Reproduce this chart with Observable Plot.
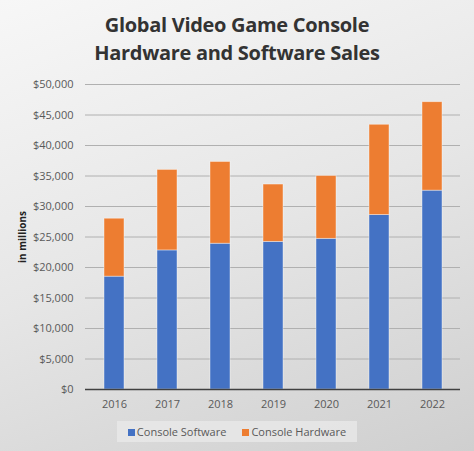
<!DOCTYPE html>
<html lang="en">
<head>
<meta charset="UTF-8">
<title>Global Video Game Console Hardware and Software Sales</title>
<style>
  body {
    margin: 0;
    padding: 0;
  }
  #chart {
    position: relative;
    width: 474px;
    height: 451px;
    overflow: hidden;
    background: linear-gradient(160deg, #f7f7f7 0%, #e6e6e6 50%, #cfcfcf 100%);
    font-family: 'Open Sans', 'DejaVu Sans', sans-serif;
  }
  #title {
    height: 70px;
    padding-top: 11px;
    box-sizing: border-box;
    text-align: center;
    font-size: 20px;
    font-weight: bold;
    line-height: 28px;
    color: #333333;
    letter-spacing: -0.3px;
  }
  #plot svg {
    display: block;
    background: transparent;
  }
  #legend {
    position: absolute;
    left: 117px;
    top: 421px;
    width: 240px;
    height: 21px;
    background: rgba(235, 235, 235, 0.7);
    display: flex;
    align-items: center;
    justify-content: center;
    gap: 16px;
    font-size: 11px;
    color: #595959;
  }
  #legend span.sw {
    display: inline-block;
    width: 7px;
    height: 7px;
    margin-right: 2px;
  }
</style>
</head>
<body>
<div id="chart">
  <div id="title">Global Video Game Console<br>Hardware and Software Sales</div>
  <div id="plot"></div>
  <div id="legend"></div>
</div>

<script src="https://cdn.jsdelivr.net/npm/d3@7"></script>
<script src="https://cdn.jsdelivr.net/npm/@observablehq/plot@0.6"></script>
<script>
  // values, in millions of dollars
  const years = ["2016", "2017", "2018", "2019", "2020", "2021", "2022"];
  const software = [18500, 22800, 23900, 24200, 24700, 28600, 32600];
  const hardware = [9500, 13200, 13400, 9400, 10300, 14800, 14500];
  const seriesNames = ["Console Software", "Console Hardware"];
  const seriesColors = ["#4472c4", "#ed7d31"];
  const yTicks = [0, 5000, 10000, 15000, 20000, 25000, 30000, 35000, 40000, 45000, 50000];

  const rows = [];
  years.forEach((yr, i) => {
    rows.push({year: yr, series: seriesNames[0], value: software[i]});
    rows.push({year: yr, series: seriesNames[1], value: hardware[i]});
  });

  const fmt = d => "$" + d3.format(",")(d);

  const chart = Plot.plot({
    width: 474,
    height: 349,
    marginTop: 14,
    marginBottom: 30,
    marginLeft: 85,
    marginRight: 14,
    style: {fontFamily: "'Open Sans', 'DejaVu Sans', sans-serif", fontSize: "11px", color: "#595959", background: "transparent"},
    x: {domain: years, paddingInner: 0.63, paddingOuter: 0.3, label: null, tickSize: 0, tickPadding: 11},
    y: {domain: [0, 50000], ticks: yTicks, tickFormat: fmt, tickSize: 0, tickPadding: 12,
        label: "in millions", labelAnchor: "center", labelOffset: 67, labelArrow: "none"},
    color: {domain: seriesNames, range: seriesColors},
    marks: [
      Plot.gridY(yTicks.slice(1), {stroke: "#b0b0b0", strokeOpacity: 1, strokeWidth: 1}),
      Plot.barY(rows, Plot.stackY({
        x: "year",
        y: "value",
        fill: "series",
        order: seriesNames,
        stroke: "#ffffff",
        strokeOpacity: 0.5,
        strokeWidth: 0.8
      })),
      Plot.ruleY([0], {stroke: "#404040", strokeWidth: 1.5})
    ]
  });

  // bold rotated axis title, like the original
  d3.select(chart).selectAll("g[aria-label='y-axis label'] text")
    .attr("font-weight", "bold")
    .attr("fill", "#222")
    .attr("font-size", 10);

  document.querySelector("#plot").append(chart);

  const legend = d3.select("#legend");
  seriesNames.forEach((name, i) => {
    const item = legend.append("div");
    item.append("span").attr("class", "sw").style("background", seriesColors[i]);
    item.append("span").text(name);
  });
</script>
</body>
</html>
